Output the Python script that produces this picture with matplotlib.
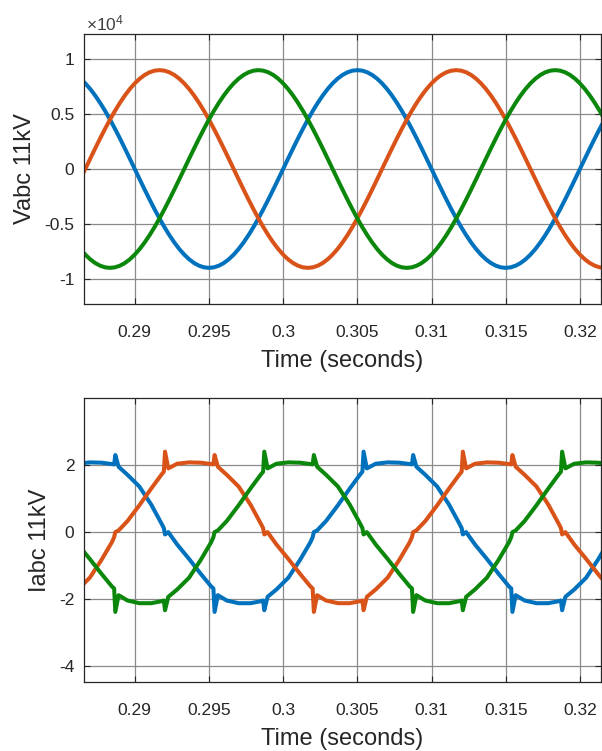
import numpy as np
import matplotlib
matplotlib.use('Agg')
import matplotlib.pyplot as plt

plt.rcParams['font.family'] = ['Liberation Sans', 'DejaVu Sans']
plt.rcParams['axes.unicode_minus'] = False
plt.rcParams['mathtext.fontset'] = 'custom'
plt.rcParams['mathtext.rm'] = 'Liberation Sans'
plt.rcParams['mathtext.it'] = 'Liberation Sans'

# ---------------- voltage data (sampled every 1/3000 s) ----------------
v_time = np.arange(859, 967) / 3000.0
va = [8176, 7751, 7241, 6651, 5989, 5261, 4475, 3640, 2766, 1861, 936, 0,
      -936, -1861, -2766, -3640, -4475, -5261, -5989, -6651, -7241, -7751,
      -8176, -8512, -8754, -8901, -8950, -8901, -8754, -8512, -8176, -7751,
      -7241, -6651, -5989, -5261, -4475, -3640, -2766, -1861, -936, 0, 936,
      1861, 2766, 3640, 4475, 5261, 5989, 6651, 7241, 7751, 8176, 8512, 8754,
      8901,
      8950, 8901, 8754, 8512, 8176, 7751, 7241, 6651, 5989, 5261, 4475, 3640,
      2766, 1861, 936, 0, -936, -1861, -2766, -3640, -4475, -5261, -5989,
      -6651, -7241, -7751, -8176, -8512, -8754, -8901, -8950, -8901, -8754,
      -8512, -8176, -7751, -7241, -6651, -5989, -5261, -4475, -3640, -2766,
      -1861, -936, 0, 936, 1861, 2766, 3640, 4475, 5261]
vb = [-936, 0, 936, 1861, 2766, 3640, 4475, 5261, 5989, 6651, 7241, 7751,
      8176, 8512, 8754, 8901,
      8950, 8901, 8754, 8512, 8176, 7751, 7241, 6651, 5989, 5261, 4475, 3640,
      2766, 1861, 936, 0, -936, -1861, -2766, -3640, -4475, -5261, -5989,
      -6651, -7241, -7751, -8176, -8512, -8754, -8901, -8950, -8901, -8754,
      -8512, -8176, -7751, -7241, -6651, -5989, -5261, -4475, -3640, -2766,
      -1861, -936, 0, 936, 1861, 2766, 3640, 4475, 5261, 5989, 6651, 7241,
      7751, 8176, 8512, 8754, 8901,
      8950, 8901, 8754, 8512, 8176, 7751, 7241, 6651, 5989, 5261, 4475, 3640,
      2766, 1861, 936, 0, -936, -1861, -2766, -3640, -4475, -5261, -5989,
      -6651, -7241, -7751, -8176, -8512, -8754, -8901, -8950, -8901]
vc = [-7241, -7751, -8176, -8512, -8754, -8901, -8950, -8901, -8754, -8512,
      -8176, -7751, -7241, -6651, -5989, -5261, -4475, -3640, -2766, -1861,
      -936, 0, 936, 1861, 2766, 3640, 4475, 5261, 5989, 6651, 7241, 7751,
      8176, 8512, 8754, 8901,
      8950, 8901, 8754, 8512, 8176, 7751, 7241, 6651, 5989, 5261, 4475, 3640,
      2766, 1861, 936, 0, -936, -1861, -2766, -3640, -4475, -5261, -5989,
      -6651, -7241, -7751, -8176, -8512, -8754, -8901, -8950, -8901, -8754,
      -8512, -8176, -7751, -7241, -6651, -5989, -5261, -4475, -3640, -2766,
      -1861, -936, 0, 936, 1861, 2766, 3640, 4475, 5261, 5989, 6651, 7241,
      7751, 8176, 8512, 8754, 8901,
      8950, 8901, 8754, 8512, 8176, 7751, 7241, 6651, 5989, 5261, 4475, 3640]

# ---------------- current data (breakpoints) ----------------
i_time = [0.28617, 0.28697, 0.28777,
          0.28846, 0.28861, 0.28869, 0.28891, 0.28951, 0.29031, 0.29111,
          0.29181, 0.29196, 0.29204, 0.29226, 0.29286, 0.29366, 0.29446,
          0.29515, 0.29530, 0.29538, 0.29560, 0.29620, 0.29700, 0.29780,
          0.29850, 0.29865, 0.29873, 0.29895, 0.29955, 0.30035, 0.30115,
          0.30184, 0.30199, 0.30207, 0.30229, 0.30289, 0.30369, 0.30449,
          0.30519, 0.30534, 0.30542, 0.30564, 0.30624, 0.30704, 0.30784,
          0.30853, 0.30868, 0.30876, 0.30898, 0.30958, 0.31038, 0.31118,
          0.31188, 0.31203, 0.31211, 0.31233, 0.31293, 0.31373, 0.31453,
          0.31522, 0.31537, 0.31545, 0.31567, 0.31627, 0.31707, 0.31787,
          0.31857, 0.31872, 0.31880, 0.31902, 0.31962, 0.32042, 0.32122,
          0.32192]
ia = [2.04, 2.08, 2.07,
      2.03, 2.02, 2.30, 1.95, 1.71, 1.36, 0.82,
      0.25, 0.12, -0.07, 0.00, -0.37, -0.80, -1.25,
      -1.62, -1.68, -2.38, -1.88, -2.04, -2.12, -2.12,
      -2.06, -2.04, -2.33, -1.93, -1.71, -1.36, -0.82,
      -0.30, -0.15, 0.00, 0.05, 0.33, 0.80, 1.30,
      1.72, 1.80, 2.40, 1.90, 2.04, 2.08, 2.07,
      2.03, 2.02, 2.30, 1.95, 1.71, 1.36, 0.82,
      0.25, 0.12, -0.07, 0.00, -0.37, -0.80, -1.25,
      -1.62, -1.68, -2.38, -1.88, -2.04, -2.12, -2.12,
      -2.06, -2.04, -2.33, -1.93, -1.71, -1.36, -0.82,
      -0.30]
ib = [-1.71, -1.36, -0.82,
      -0.30, -0.15, 0.00, 0.05, 0.33, 0.80, 1.30,
      1.72, 1.80, 2.40, 1.90, 2.04, 2.08, 2.07,
      2.03, 2.02, 2.30, 1.95, 1.71, 1.36, 0.82,
      0.25, 0.12, -0.07, 0.00, -0.37, -0.80, -1.25,
      -1.62, -1.68, -2.38, -1.88, -2.04, -2.12, -2.12,
      -2.06, -2.04, -2.33, -1.93, -1.71, -1.36, -0.82,
      -0.30, -0.15, 0.00, 0.05, 0.33, 0.80, 1.30,
      1.72, 1.80, 2.40, 1.90, 2.04, 2.08, 2.07,
      2.03, 2.02, 2.30, 1.95, 1.71, 1.36, 0.82,
      0.25, 0.12, -0.07, 0.00, -0.37, -0.80, -1.25,
      -1.62]
ic = [-0.37, -0.80, -1.25,
      -1.62, -1.68, -2.38, -1.88, -2.04, -2.12, -2.12,
      -2.06, -2.04, -2.33, -1.93, -1.71, -1.36, -0.82,
      -0.30, -0.15, 0.00, 0.05, 0.33, 0.80, 1.30,
      1.72, 1.80, 2.40, 1.90, 2.04, 2.08, 2.07,
      2.03, 2.02, 2.30, 1.95, 1.71, 1.36, 0.82,
      0.25, 0.12, -0.07, 0.00, -0.37, -0.80, -1.25,
      -1.62, -1.68, -2.38, -1.88, -2.04, -2.12, -2.12,
      -2.06, -2.04, -2.33, -1.93, -1.71, -1.36, -0.82,
      -0.30, -0.15, 0.00, 0.05, 0.33, 0.80, 1.30,
      1.72, 1.80, 2.40, 1.90, 2.04, 2.08, 2.07,
      2.03]

xticks = [0.29, 0.295, 0.3, 0.305, 0.31, 0.315, 0.32]
xtick_labels = ['0.29', '0.295', '0.3', '0.305', '0.31', '0.315', '0.32']
v_yticks = [-1e4, -0.5e4, 0, 0.5e4, 1e4]
v_ytick_labels = ['-1', '-0.5', '0', '0.5', '1']
i_yticks = [-4, -2, 0, 2]
i_ytick_labels = ['-4', '-2', '0', '2']

colors = ['#0072BD', '#D95319', '#0B870B']

W, H = 602, 751
fig = plt.figure(figsize=(W / 100, H / 100), dpi=100)

def box(l, t, r, b):
    return [l / W, 1 - b / H, (r - l) / W, (b - t) / H]

ax1 = fig.add_axes(box(84, 34, 601, 304))
ax2 = fig.add_axes(box(84, 398, 601, 682))

for s, c in zip([va, vb, vc], colors):
    ax1.plot(v_time, s, color=c, lw=2.9, solid_joinstyle='round')
for s, c in zip([ia, ib, ic], colors):
    ax2.plot(i_time, s, color=c, lw=2.9, solid_joinstyle='round')

ax1.set_ylim(-1.222e4, 1.222e4)
ax2.set_ylim(-4.47, 4.0)

for ax, yt, ytl, lab in [(ax1, v_yticks, v_ytick_labels, 'Vabc 11kV'),
                          (ax2, i_yticks, i_ytick_labels, 'Iabc 11kV')]:
    ax.set_xlim(0.28658, 0.32142)
    ax.set_xticks(xticks)
    ax.set_xticklabels(xtick_labels)
    ax.set_yticks(yt)
    ax.set_yticklabels(ytl)
    ax.grid(True, color='#8a8a8a', linewidth=0.9)
    ax.set_axisbelow(True)
    ax.tick_params(direction='in', length=4, width=0.8, top=True, right=True,
                   labelsize=12.5, colors='#262626')
    ax.tick_params(axis='x', pad=15)
    ax.tick_params(axis='y', pad=7)
    for sp in ax.spines.values():
        sp.set_linewidth(0.9)
        sp.set_color('#262626')
    ax.set_xlabel('Time (seconds)', fontsize=17, color='#262626', labelpad=7)
    ax.set_ylabel(lab, fontsize=17, color='#262626', labelpad=6)

fig.text(86 / W, 1 - 30 / H, r'$\times10^{4}$', fontsize=12.5, color='#404040',
         ha='left', va='baseline')

fig.savefig('out.png', dpi=100)
